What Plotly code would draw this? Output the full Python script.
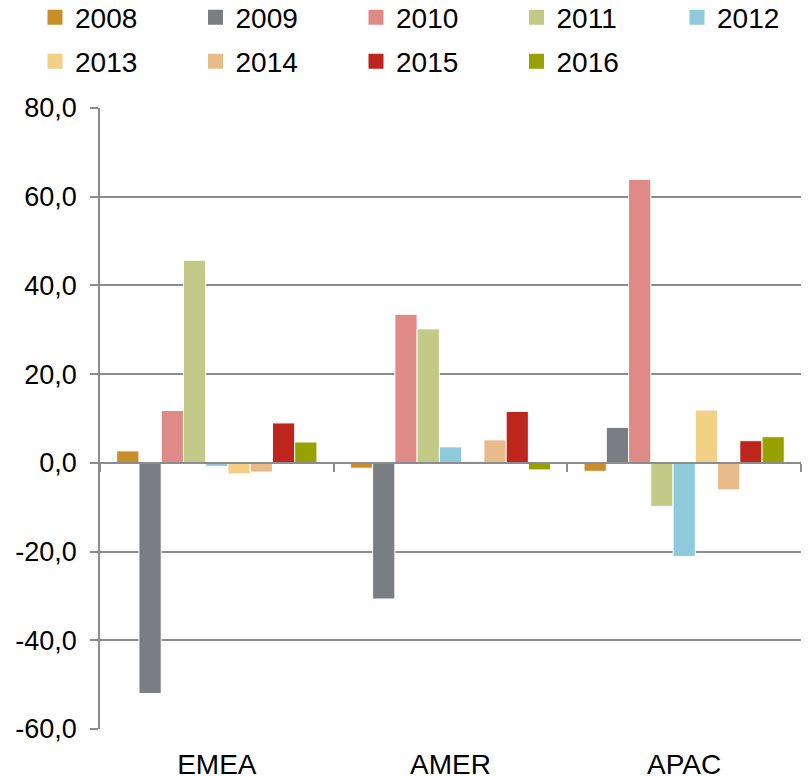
import plotly.graph_objects as go

regions = ["EMEA", "AMER", "APAC"]
years = ["2008", "2009", "2010", "2011", "2012", "2013", "2014", "2015", "2016"]

v2008 = [2.7, -1.2, -1.9]
v2009 = [-52.0, -30.7, 8.0]
v2010 = [11.8, 33.5, 63.9]
v2011 = [45.7, 30.2, -9.8]
v2012 = [-0.8, 3.6, -21.1]
v2013 = [-2.5, 0.4, 11.9]
v2014 = [-2.1, 5.2, -6.1]
v2015 = [9.0, 11.6, 5.0]
v2016 = [4.7, -1.6, 5.9]
series_values = [v2008, v2009, v2010, v2011, v2012, v2013, v2014, v2015, v2016]

colors = ["#C98D2A", "#7A7E82", "#E08A87", "#C3C987", "#8FCADB",
          "#F2D186", "#E8BC8A", "#BE261D", "#97A100"]

y_tickvals = [-60, -40, -20, 0, 20, 40, 60, 80]
y_ticktext = ["-60,0", "-40,0", "-20,0", "0,0", "20,0", "40,0", "60,0", "80,0"]

FONT = "Liberation Sans, Arial, sans-serif"
GRID = "#8C8C8C"

W, H = 811, 776
ML, MR, MT, MB = 100, 10, 108, 47
plot_w = W - ML - MR
plot_h = H - MT - MB

fig = go.Figure()
for i, (yr, vals, col) in enumerate(zip(years, series_values, colors)):
    leg = "legend" if i < 5 else "legend2"
    fig.add_trace(go.Bar(
        x=regions, y=vals, name=yr, legendgroup=yr, showlegend=False,
        marker=dict(color=col, line=dict(color="white", width=1)),
    ))
    # legend proxy (square swatch), no data drawn
    fig.add_trace(go.Scatter(
        x=[None], y=[None], name=yr, legendgroup=yr, legend=leg,
        mode="markers", hoverinfo="skip",
        marker=dict(symbol="square", size=15, color=col),
    ))

legend_common = dict(
    orientation="h", xref="paper", yref="paper",
    x=(35 - ML) / plot_w, xanchor="left", yanchor="middle",
    entrywidth=115.5, entrywidthmode="pixels",
    font=dict(family=FONT, size=28, color="#000000"),
    bgcolor="rgba(0,0,0,0)", borderwidth=0, traceorder="normal",
    itemclick=False, itemdoubleclick=False,
)

ymin, ymax = -60, 80
fig.update_layout(
    width=W, height=H,
    margin=dict(l=ML, r=MR, t=MT, b=MB, autoexpand=False),
    paper_bgcolor="white", plot_bgcolor="white",
    barmode="group", bargap=0.143, bargroupgap=0,
    font=dict(family=FONT, size=27, color="#000000"),
    showlegend=True,
    legend=dict(legend_common, y=1 + (MT - 17.5) / plot_h),
    legend2=dict(legend_common, y=1 + (MT - 61.5) / plot_h),
    xaxis=dict(
        type="category", categoryorder="array", categoryarray=regions,
        anchor="free", position=(0 - ymin) / (ymax - ymin),
        showline=True, linecolor=GRID, linewidth=1.5,
        ticks="outside", ticklen=8, tickwidth=1.5, tickcolor=GRID,
        tickson="boundaries", showgrid=False, zeroline=False,
        tickfont=dict(family=FONT, size=28, color="#000000"),
        ticklabelstandoff=277, automargin=False,
    ),
    yaxis=dict(
        range=[ymin, ymax], tickvals=y_tickvals, ticktext=y_ticktext,
        showline=True, linecolor=GRID, linewidth=1.5,
        ticks="outside", ticklen=8, tickwidth=1.5, tickcolor=GRID,
        showgrid=True, gridcolor=GRID, gridwidth=1.5, zeroline=False,
        tickfont=dict(family=FONT, size=27, color="#000000"),
        ticklabelstandoff=8, automargin=False,
    ),
)

fig.write_html("out.html", config={"displayModeBar": False},
               post_script="document.body.style.margin='0';")
